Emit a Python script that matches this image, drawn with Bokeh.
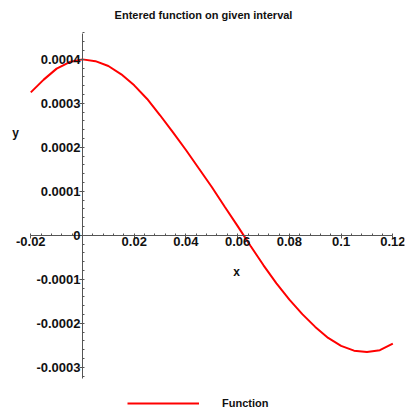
from bokeh.plotting import figure
from bokeh.models import Range1d, FixedTicker, Label, Legend, LegendItem
from bokeh.embed import file_html
from bokeh.resources import INLINE

# ---- data ----
x_vals = [-0.020, -0.015, -0.010, -0.005, 0.000, 0.005, 0.010, 0.015, 0.020,
          0.025, 0.030, 0.035, 0.040, 0.045, 0.050, 0.055, 0.060, 0.065,
          0.070, 0.075, 0.080, 0.085, 0.090, 0.095, 0.100, 0.105, 0.110,
          0.115, 0.120]
y_vals = [0.000325, 0.000354, 0.000379, 0.000394, 0.000400, 0.000396,
          0.000385, 0.000366, 0.000341, 0.000310, 0.000273, 0.000234,
          0.000194, 0.000152, 0.000110, 0.000065, 0.000021, -0.000024,
          -0.000068, -0.000109, -0.000146, -0.000179, -0.000208, -0.000233,
          -0.000251, -0.000262, -0.000265, -0.000261, -0.000246]

x_axis_bounds = (-0.02, 0.12)
y_axis_bounds = (-0.000325, 0.000459)
x_ticks = [-0.02, 0.02, 0.04, 0.06, 0.08, 0.1, 0.12]
x_tick_labels = ["-0.02", "0.02", "0.04", "0.06", "0.08", "0.1", "0.12"]
y_ticks = [-0.0003, -0.0002, -0.0001, 0.0, 0.0001, 0.0002, 0.0003, 0.0004]
y_tick_labels = ["-0.0003", "-0.0002", "-0.0001", "0", "0.0001", "0.0002",
                 "0.0003", "0.0004"]
x_minor = [round(-0.02 + 0.004 * i, 4) for i in range(36)]
y_minor = [round(-0.00032 + 0.00002 * i, 6) for i in range(40)]

title_text = "Entered function on given interval"
legend_text = "Function"
x_label = "x"
y_label = "y"

FONT = "Liberation Sans"
AXIS_COLOR = "#555555"
TEXT_COLOR = "#111111"

p = figure(output_backend="svg", toolbar_location=None,
           width=406, height=410,
           x_range=Range1d(-0.03094, 0.12452),
           y_range=Range1d(-0.000398, 0.000477),
           min_border_left=2, min_border_right=2,
           min_border_top=25, min_border_bottom=0,
           title=title_text)

p.title.align = "center"
p.title.text_font = FONT
p.title.text_font_size = "11px"
p.title.text_font_style = "bold"
p.title.text_color = TEXT_COLOR

p.outline_line_color = None
p.grid.visible = False
p.background_fill_color = "white"
p.border_fill_color = "white"

for ax in (p.xaxis[0], p.yaxis[0]):
    ax.fixed_location = 0
    ax.axis_line_color = AXIS_COLOR
    ax.major_tick_line_color = AXIS_COLOR
    ax.minor_tick_line_color = AXIS_COLOR
    ax.major_tick_in = 0
    ax.major_tick_out = 3
    ax.minor_tick_in = 2
    ax.minor_tick_out = 0
    ax.major_label_text_font = FONT
    ax.major_label_text_font_size = "13px"
    ax.major_label_text_font_style = "bold"
    ax.major_label_text_color = TEXT_COLOR

p.xaxis[0].bounds = x_axis_bounds
p.yaxis[0].bounds = y_axis_bounds
p.xaxis[0].ticker = FixedTicker(ticks=x_ticks, minor_ticks=x_minor)
p.yaxis[0].ticker = FixedTicker(ticks=y_ticks, minor_ticks=y_minor)
p.xaxis[0].major_label_overrides = dict(zip(x_ticks, x_tick_labels))
p.yaxis[0].major_label_overrides = dict(zip(y_ticks, y_tick_labels))
p.xaxis[0].major_label_standoff = -1
p.yaxis[0].major_label_standoff = -1

r = p.line(x_vals, y_vals, line_color="#ff0000", line_width=2)

p.add_layout(Label(x=0.0596, y=-0.000084, text=x_label, text_font=FONT,
                   text_font_size="12px", text_font_style="bold",
                   text_align="center", text_baseline="middle",
                   text_color=TEXT_COLOR))
p.add_layout(Label(x=-0.0259, y=0.000232, text=y_label, text_font=FONT,
                   text_font_size="12px", text_font_style="bold",
                   text_align="center", text_baseline="middle",
                   text_color=TEXT_COLOR))

legend = Legend(items=[LegendItem(label=legend_text, renderers=[r])],
                location=(125, 1), padding=0, margin=0, spacing=0,
                glyph_width=72, glyph_height=12, label_height=12,
                label_standoff=23, border_line_color=None,
                background_fill_alpha=0,
                label_text_font=FONT, label_text_font_size="11px",
                label_text_font_style="bold",
                label_text_baseline="middle",
                label_text_color=TEXT_COLOR)
p.add_layout(legend, "center")

open("out.html", "w").write(file_html(p, INLINE))
